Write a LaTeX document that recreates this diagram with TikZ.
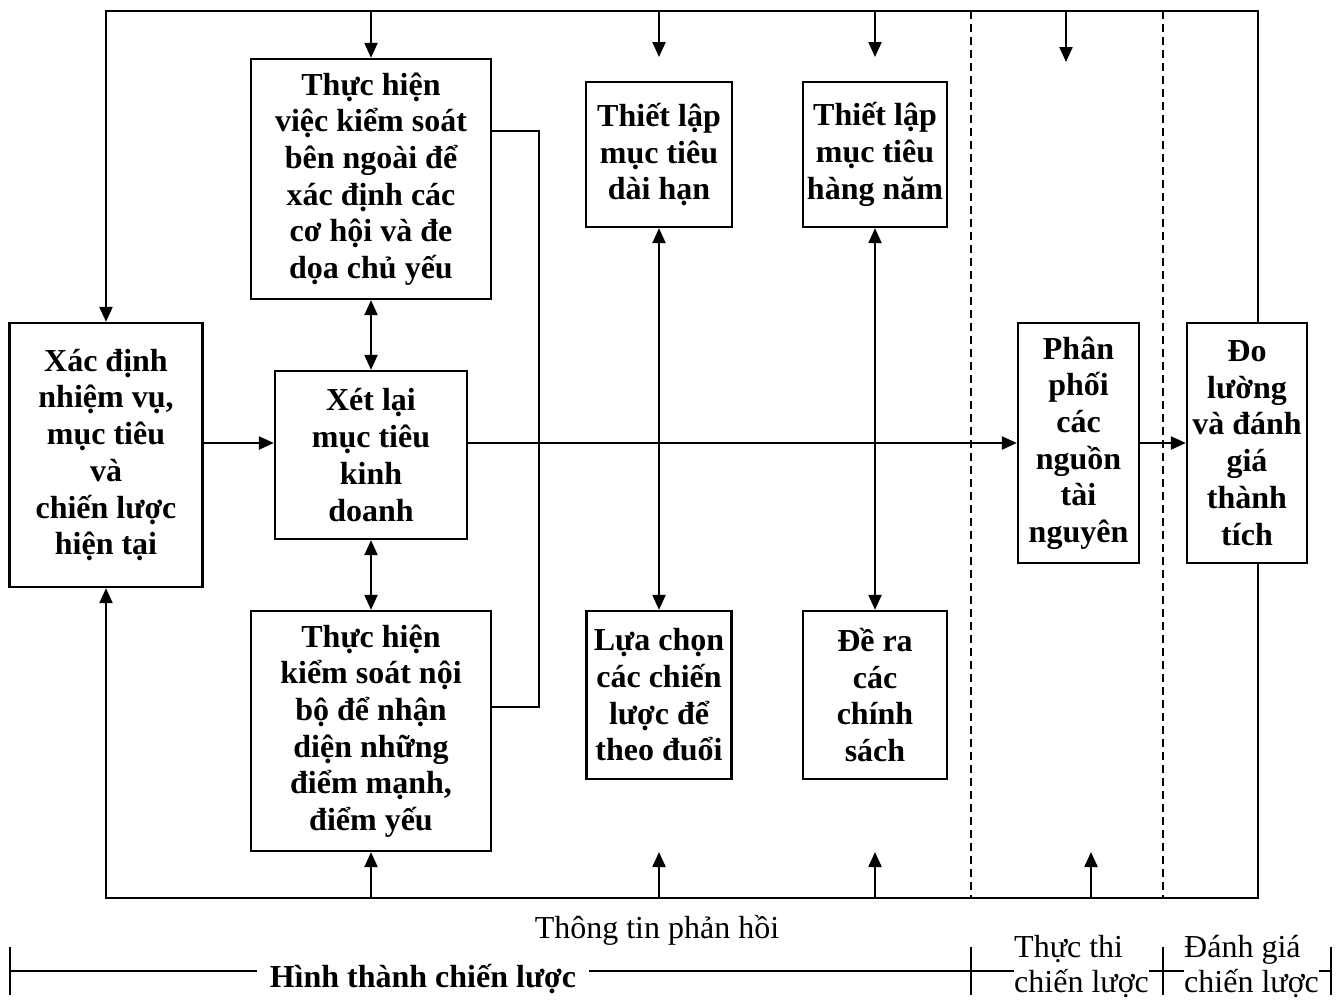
\documentclass[tikz,border=0pt]{standalone}
\usepackage{fontspec}
\setmainfont{Liberation Serif}
\usetikzlibrary{arrows.meta}
\begin{document}
\begin{tikzpicture}[x=1pt,y=-1pt,
  box/.style={draw, line width=2.3pt, fill=white, align=center, inner sep=0pt,
    font=\bfseries\fontsize{32}{36.7}\selectfont},
  conn/.style={line width=2.2pt},
  tip/.style={-{Triangle[length=15pt,width=13pt]}},
  dtip/.style={{Triangle[length=15pt,width=13pt]}-{Triangle[length=15pt,width=13pt]}},
  dashline/.style={line width=1.6pt, dash pattern=on 8pt off 5pt},
  lbl/.style={font=\fontsize{32}{35}\selectfont, fill=white, inner ysep=0pt},
]
\useasboundingbox (0,0) rectangle (1340,1002);

% boxes
\node[box, minimum width=240pt, minimum height=240pt] (ext) at (371,179)
  {Thực hiện\\việc kiểm soát\\bên ngoài để\\xác định các\\cơ hội và đe\\dọa chủ yếu};
\node[box, minimum width=193pt, minimum height=264pt] (xd) at (106,455)
  {Xác định\\nhiệm vụ,\\mục tiêu\\và\\chiến lược\\hiện tại};
\node[box, minimum width=192pt, minimum height=168pt] (xl) at (371,455)
  {Xét lại\\mục tiêu\\kinh\\doanh};
\node[box, minimum width=240pt, minimum height=240pt] (int) at (371,731)
  {Thực hiện\\kiểm soát nội\\bộ để nhận\\diện những\\điểm mạnh,\\điểm yếu};
\node[box, minimum width=146pt, minimum height=145pt] (dh) at (659,154.5)
  {Thiết lập\\mục tiêu\\dài hạn};
\node[box, minimum width=144pt, minimum height=145pt] (hn) at (875,154.5)
  {Thiết lập\\mục tiêu\\hàng năm};
\node[box, minimum width=145pt, minimum height=168pt] (lc) at (659,695)
  {Lựa chọn\\các chiến\\lược để\\theo đuổi};
\node[box, minimum width=144pt, minimum height=168pt] (dr) at (875,695)
  {Đề ra\\các\\chính\\sách};
\node[box, minimum width=121pt, minimum height=240pt] (pp) at (1078.5,443)
  {Phân\\phối\\các\\nguồn\\tài\\nguyên};
\node[box, minimum width=120pt, minimum height=240pt] (do) at (1247,443)
  {Đo\\lường\\và đánh\\giá\\thành\\tích};

% frame coordinates
\coordinate (tl) at (106,11);
\coordinate (tr) at (1258,11);
\coordinate (br) at (1258,898);
\coordinate (bl) at (106,898);

% outer feedback loop
\draw[conn,tip] (do.north -| tr) -- (tr) -- (tl) -- (xd.north);
\draw[conn,tip] (do.south -| br) -- (br) -- (bl) -- (xd.south);

% dashed separators
\coordinate (d1t) at (971,11);  \coordinate (d1b) at (971,898);
\coordinate (d2t) at (1163,11); \coordinate (d2b) at (1163,898);
\draw[dashline] (d1t) -- (d1b);
\draw[dashline] (d2t) -- (d2b);

% arrows from top line
\coordinate (a2) at (659,57);
\coordinate (a3) at (875,57);
\coordinate (a4) at (1066,62);
\draw[conn,tip] (ext.north |- tl) -- (ext.north);
\draw[conn,tip] (a2 |- tl) -- (a2);
\draw[conn,tip] (a3 |- tl) -- (a3);
\draw[conn,tip] (a4 |- tl) -- (a4);

% arrows from bottom line
\coordinate (b2) at (659,852);
\coordinate (b3) at (875,852);
\coordinate (b4) at (1091,852);
\draw[conn,tip] (int.south |- bl) -- (int.south);
\draw[conn,tip] (b2 |- bl) -- (b2);
\draw[conn,tip] (b3 |- bl) -- (b3);
\draw[conn,tip] (b4 |- bl) -- (b4);

% double arrows
\draw[conn,dtip] (ext.south) -- (xl.north);
\draw[conn,dtip] (xl.south) -- (int.north);
\draw[conn,dtip] (dh.south) -- (dh.south |- lc.north);
\draw[conn,dtip] (hn.south) -- (hn.south |- dr.north);

% main horizontal flow
\draw[conn,tip] (xd.east |- pp.west) -- (xl.west |- pp.west);
\draw[conn,tip] (xl.east |- pp.west) -- (pp.west);
\draw[conn,tip] (pp.east) -- (do.west);

% link external / internal
\coordinate (rj1) at (539,131);
\coordinate (rj2) at (539,707);
\draw[conn] (ext.east |- rj1) -- (rj1) -- (rj2) -- (int.east |- rj2);

% feedback label
\node[font=\fontsize{32}{36}\selectfont, anchor=base] (tt) at (657,938) {Thông tin phản hồi};

% bottom bracket
\draw[line width=2pt] (10,971) -- (1331,971);
\draw[line width=2pt] (10,947) -- (10,995);
\draw[line width=2pt] (971,947) -- (971,995);
\draw[line width=2pt] (1163,947) -- (1163,995);
\draw[line width=2pt] (1331,947) -- (1331,995);
\node[lbl, font=\bfseries\fontsize{32}{36}\selectfont, anchor=base, inner xsep=13pt] (ht) at (423,987) {Hình thành chiến lược};
\node[lbl, align=left, anchor=west, inner xsep=0pt] (tth) at (1014,967) {Thực thi\\chiến lược};
\node[lbl, align=left, anchor=west, inner xsep=0pt] (dg) at (1184,967) {Đánh giá\\chiến lược};
\end{tikzpicture}
\end{document}
